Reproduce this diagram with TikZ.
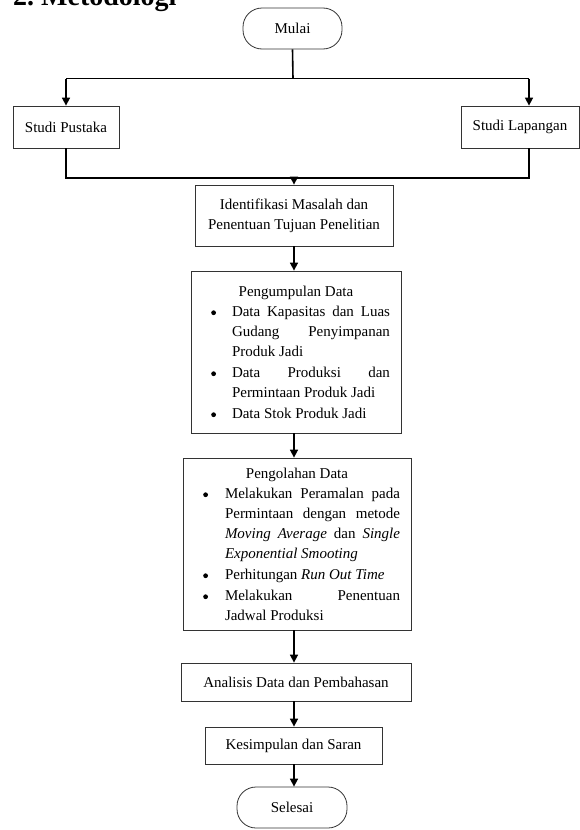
\documentclass[tikz,border=0pt]{standalone}
\usepackage{fontspec}
\setmainfont{Liberation Serif}
\usetikzlibrary{arrows.meta}
\tolerance=10000
\pretolerance=10000
\hbadness=10000
\newcommand{\jl}[1]{\makebox[\linewidth][s]{#1}}
\newcommand{\bdot}{\tikz[baseline=0pt]\fill (0pt,3.4pt) circle (2.4pt);}
\newenvironment{blist}[3]{\begin{list}{\bdot}{%
  \setlength\leftmargin{#1}\setlength\rightmargin{#2}\setlength\labelsep{#3}%
  \setlength\labelwidth{8pt}\setlength\itemsep{1pt}\setlength\topsep{0pt}%
  \setlength\parsep{0pt}\setlength\partopsep{0pt}\setlength\itemindent{0pt}}}{\end{list}}
\tikzset{
  box/.style={draw=black!80, line width=0.8pt, inner sep=0pt, font=\fontsize{15}{20}\selectfont},
  cbox/.style={box, align=center},
  term/.style={cbox, rounded corners=19pt},
  conn/.style={line width=1.6pt},
  arr/.style={conn, -{Triangle[length=8pt,width=8pt]}},
}
\begin{document}
\begin{tikzpicture}[x=1pt,y=-1pt]
\useasboundingbox (0,0) rectangle (580,830);
\node[anchor=base west, font=\bfseries\fontsize{28}{30}\selectfont, inner sep=0pt] (title) at (13,5) {2.\ Metodologi};

\node[term, minimum width=99pt, minimum height=41pt] (mulai) at (292.5,28.5) {Mulai};
\node[cbox, minimum width=106pt, minimum height=42pt] (sp) at (66,127) {Studi Pustaka};
\node[cbox, minimum width=118pt, minimum height=42pt] (sl) at (520,127) {Studi Lapangan};
\node[cbox, minimum width=198pt, minimum height=61pt] (ident) at (294,215.5) {Identifikasi Masalah dan\\Penentuan Tujuan Penelitian};
\node[box, minimum width=210pt, minimum height=162pt, text width=200pt] (pk) at (296,352) {%
  \spaceskip=0pt\xspaceskip=0pt\parindent=0pt\parskip=0pt{\centering Pengumpulan Data\par}%
  \begin{blist}{36pt}{6pt}{16pt}
  \item \jl{Data Kapasitas dan Luas}\newline\jl{Gudang Penyimpanan}\newline Produk Jadi
  \item \jl{Data Produksi dan}\newline Permintaan Produk Jadi
  \item Data Stok Produk Jadi
  \end{blist}};
\node[box, minimum width=228pt, minimum height=172pt, text width=218pt] (po) at (297,544) {%
  \spaceskip=0pt\xspaceskip=0pt\parindent=0pt\parskip=0pt{\centering Pengolahan Data\par}%
  \begin{blist}{37pt}{6pt}{17pt}
  \item \jl{Melakukan Peramalan pada}\newline\jl{Permintaan dengan metode}\newline\jl{\textit{Moving Average} dan \textit{Single}}\newline\textit{Exponential Smooting}
  \item Perhitungan \textit{Run Out Time}
  \item \jl{Melakukan Penentuan}\newline Jadwal Produksi
  \end{blist}};
\node[cbox, minimum width=230pt, minimum height=38pt] (an) at (296,682) {Analisis Data dan Pembahasan};
\node[cbox, minimum width=177pt, minimum height=37pt] (ks) at (293.5,745.5) {Kesimpulan dan Saran};
\node[term, minimum width=110pt, minimum height=41pt] (sel) at (292,807.5) {Selesai};

\coordinate (jt) at (293,78.5);
\coordinate (jtl) at (66,78.5);
\coordinate (jtr) at (529,78.5);
\coordinate (jbl) at (66,178);
\coordinate (jbr) at (529,178);
\coordinate (jbm) at (294,178);

\draw[conn] (mulai.south) -- (jt);
\draw[conn] (jtl) -- (jtr);
\draw[arr] (jtl) -- (sp.north);
\draw[arr] (jtr) -- (jtr |- sl.north);
\draw[conn] (sp.south) -- (jbl) -- (jbr) -- (jbr |- sl.south);
\draw[arr] (jbm) -- (ident.north);
\draw[arr] (ident.south) -- (ident.south |- pk.north);
\draw[arr] (ident.south |- pk.south) -- (ident.south |- po.north);
\draw[arr] (ident.south |- po.south) -- (ident.south |- an.north);
\draw[arr] (ident.south |- an.south) -- (ident.south |- ks.north);
\draw[arr] (ident.south |- ks.south) -- (ident.south |- sel.north);
\end{tikzpicture}
\end{document}
